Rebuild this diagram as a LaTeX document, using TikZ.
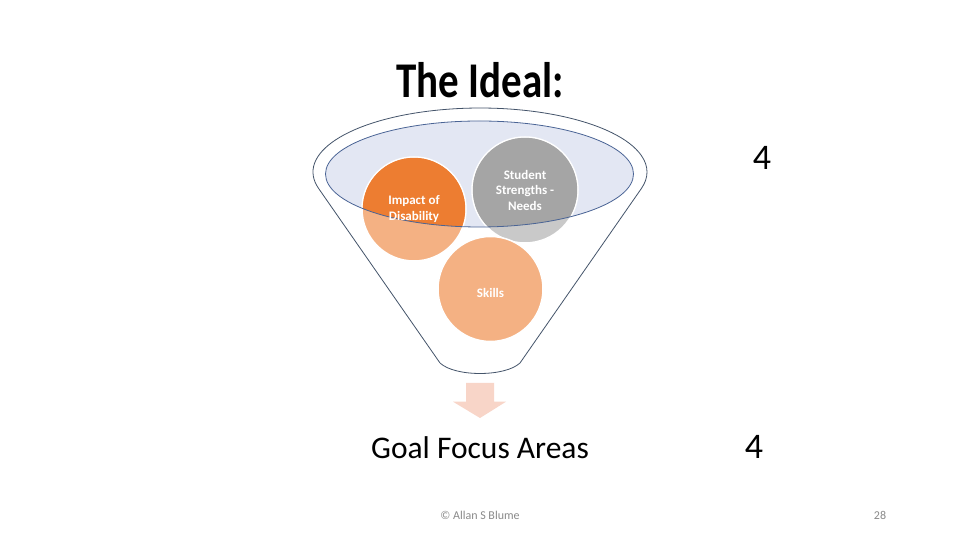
\documentclass[tikz,border=0pt]{standalone}
\usepackage{fontspec}
\setmainfont{Carlito}
\definecolor{funnelline}{HTML}{44546A}
\definecolor{rimfill}{HTML}{E3E7F3}
\definecolor{rimline}{HTML}{4A6495}
\definecolor{orangedark}{HTML}{ED7D31}
\definecolor{orangelight}{HTML}{F4B183}
\definecolor{graydark}{HTML}{A5A5A5}
\definecolor{graylight}{HTML}{C9C9C9}
\definecolor{arrowfill}{HTML}{F8D5C8}
\definecolor{footgray}{HTML}{8A8A8A}
\tikzset{
  ball/.style={circle, draw=white, line width=1.5pt, inner sep=0pt},
  balltext/.style={text=white, align=center, font=\bfseries\fontsize{13}{15.5}\selectfont},
  bigfour/.style={font=\fontsize{36}{40}\selectfont, text=black},
  foot/.style={font=\fontsize{12}{14}\selectfont, text=footgray}
}
\begin{document}
\begin{tikzpicture}[x=1pt,y=1pt]
\useasboundingbox[fill=white] (0,0) rectangle (960,540);
% title
\node[font=\bfseries\fontsize{50}{54}\selectfont, xscale=0.82] (title) at (480,460) {The Ideal:};
% outer funnel
\coordinate (bl) at (440,177);
\coordinate (br) at (520,177);
\draw[funnelline, line width=0.8pt] (bl) -- (318.7,351.4)
  arc[start angle=195, end angle=-15, x radius=167, y radius=64]
  -- (br) .. controls (505,163) and (455,163) .. (bl);
% inner rim
\fill[rimfill] (479.5,366) ellipse[x radius=154, y radius=53];
% circles (light parts)
\node[ball, minimum size=104pt, fill=orangelight] (impact) at (414,331) {};
\node[ball, minimum size=106pt, fill=graylight] (strengths) at (525,350) {};
\node[ball, minimum size=105pt, fill=orangelight] (skills) at (490.5,251) {};
% parts inside the rim
\begin{scope}
  \clip (479.5,366) ellipse[x radius=154, y radius=53];
  \fill[orangedark] (impact.center) circle (51.2);
  \fill[graydark] (strengths.center) circle (52.2);
\end{scope}
\draw[rimline, line width=0.8pt] (479.5,366) ellipse[x radius=154, y radius=53];
% circle texts
\node[balltext] (impacttext) at (impact.center) {Impact of\\Disability};
\node[balltext] (strengthstext) at (strengths.center) {Student\\Strengths -\\Needs};
\node[balltext] (skillstext) at ([yshift=-4pt]skills.center) {Skills};
% arrow
\fill[arrowfill] (466,157) -- (494,157) -- (494,138.3) -- (506,138.3) -- (480,122) -- (453,138.3) -- (466,138.3) -- cycle;
% texts
\node[font=\fontsize{31.5}{36}\selectfont] (goal) at (480,92) {Goal Focus Areas};
\node[bigfour] (fourtop) at (762,382) {4};
\node[bigfour] (fourbottom) at (754,93) {4};
\node[foot] (copy) at (480,25) {© Allan S Blume};
\node[foot] (page) at (880,25) {28};
\end{tikzpicture}
\end{document}
